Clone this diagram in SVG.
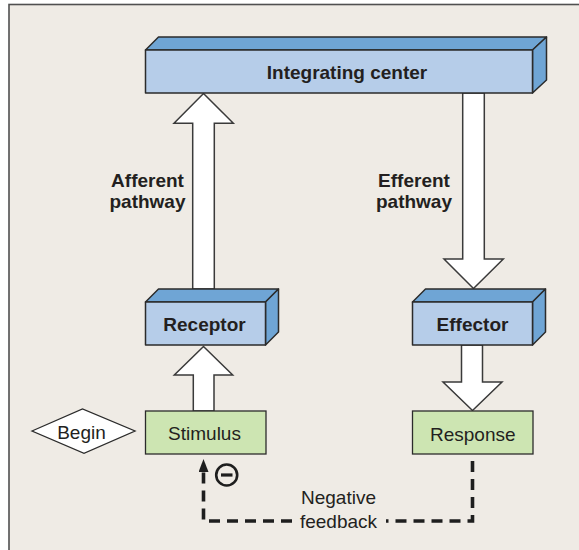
<svg xmlns="http://www.w3.org/2000/svg" width="579" height="550" viewBox="0 0 579 550">
  <defs>
    <style>
      .front { fill: #b6cde9; stroke: #2b2b2b; stroke-width: 1.5; stroke-linejoin: round; }
      .face { fill: #6fa5d5; stroke: #2b2b2b; stroke-width: 1.5; stroke-linejoin: round; }
      .green { fill: #cde5b2; stroke: #2b2b2b; stroke-width: 1.3; }
      .fat { fill: #ffffff; stroke: #3a3a3a; stroke-width: 1.5; stroke-linejoin: miter; }
      .lbl { font-family: "Liberation Sans", Arial, sans-serif; font-size: 19px; font-weight: bold; fill: #231f20; text-anchor: middle; }
      .txt { font-family: "Liberation Sans", Arial, sans-serif; font-size: 19px; fill: #231f20; text-anchor: middle; }
      .dash { fill: none; stroke: #1e1e1e; stroke-width: 3.6; stroke-dasharray: 11 7; }
    </style>
    <marker id="head" viewBox="0 0 13 10" refX="1" refY="5" markerWidth="13" markerHeight="10" markerUnits="userSpaceOnUse" orient="auto">
      <path d="M0 0 L13 5 L0 10 Z" fill="#1e1e1e"/>
    </marker>
  </defs>

  <!-- panel background and frame -->
  <rect x="0" y="0" width="579" height="550" fill="#ffffff"/>
  <rect x="9" y="4.5" width="620" height="600" fill="#efebe5" stroke="#505050" stroke-width="1.6"/>

  <!-- connectors: block arrows and the feedback loop -->
  <g id="connectors">
    <polygon class="fat" points="192.7,289 192.7,123.3 174,123.3 203.5,93.5 233.3,123.3 214.3,123.3 214.3,289"/>
    <polygon class="fat" points="462.7,93 462.7,259 444,259 473.5,288.5 503.3,259 484.3,259 484.3,93"/>
    <polygon class="fat" points="193.3,411 193.3,375 174.3,375 203.5,346.5 232.7,375 214,375 214,411"/>
    <polygon class="fat" points="461.5,345 461.5,382 443,382 472.5,410.5 502,382 482.5,382 482.5,345"/>
    <path class="dash" d="M472.5 461 V521 H386"/>
    <path class="dash" d="M292 521 H203.5 V471" marker-end="url(#head)"/>
    <circle cx="226.7" cy="475" r="10.5" fill="none" stroke="#1e1e1e" stroke-width="2.6"/>
    <line x1="221" y1="475" x2="232.5" y2="475" stroke="#1e1e1e" stroke-width="3.2"/>
    <text class="txt" x="338.5" y="504">Negative</text>
    <text class="txt" x="338.5" y="527.5">feedback</text>
    <text class="lbl" x="147.5" y="186.7">Afferent</text>
    <text class="lbl" x="147.5" y="208.3">pathway</text>
    <text class="lbl" x="414" y="186.7">Efferent</text>
    <text class="lbl" x="414" y="208.3">pathway</text>
  </g>

  <!-- integrating center -->
  <g id="integrating-center">
    <polygon class="face" points="145.5,50 158.5,37 546.5,37 532.5,50"/>
    <polygon class="face" points="532.5,50 546.5,37 546.5,80 532.5,93"/>
    <rect class="front" x="145.5" y="50" width="387" height="43"/>
    <text class="lbl" x="347" y="79.3">Integrating center</text>
  </g>

  <!-- receptor -->
  <g id="receptor">
    <polygon class="face" points="145.5,302 158.5,289 278.5,289 265.5,302"/>
    <polygon class="face" points="265.5,302 278.5,289 278.5,332 265.5,345"/>
    <rect class="front" x="145.5" y="302" width="120" height="43"/>
    <text class="lbl" x="204.5" y="330.7">Receptor</text>
  </g>

  <!-- effector -->
  <g id="effector">
    <polygon class="face" points="412.5,302 425.5,289 545.5,289 532.5,302"/>
    <polygon class="face" points="532.5,302 545.5,289 545.5,332 532.5,345"/>
    <rect class="front" x="412.5" y="302" width="120" height="43"/>
    <text class="lbl" x="472.5" y="331">Effector</text>
  </g>

  <!-- begin marker -->
  <g id="begin">
    <polygon points="32,431 82.5,409 135,431 84,453.3" fill="#ffffff" stroke="#2b2b2b" stroke-width="1.3"/>
    <text class="txt" x="81.5" y="439">Begin</text>
  </g>

  <!-- stimulus -->
  <g id="stimulus">
    <rect class="green" x="145.5" y="411" width="120.5" height="43"/>
    <text class="txt" x="204.5" y="440">Stimulus</text>
  </g>

  <!-- response -->
  <g id="response">
    <rect class="green" x="412.5" y="411" width="120.5" height="43"/>
    <text class="txt" x="472.8" y="441">Response</text>
  </g>
</svg>
